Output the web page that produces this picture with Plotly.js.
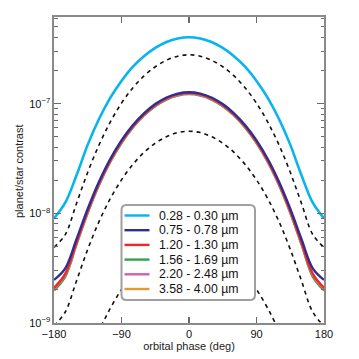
<!DOCTYPE html>
<html>
<head>
<meta charset="utf-8">
<script src="https://cdn.plot.ly/plotly-3.0.1.min.js"></script>
<style>html,body{margin:0;padding:0;background:#fff;}</style>
</head>
<body>
<div id="chart" style="width:359px;height:359px;"></div>
<script>
// orbital phase samples (deg)
const phase = [-180,-165,-150,-135,-120,-105,-90,-75,-60,-45,-30,-15,0,15,30,45,60,75,90,105,120,135,150,165,180];

// planet/star contrast per band
const band028 = [9.0e-9,1.25e-8,2.22e-8,4.23e-8,7.25e-8,1.13e-7,1.61e-7,2.16e-7,2.70e-7,3.22e-7,3.65e-7,3.93e-7,4.03e-7,3.93e-7,3.65e-7,3.22e-7,2.70e-7,2.16e-7,1.61e-7,1.13e-7,7.25e-8,4.23e-8,2.22e-8,1.25e-8,9.0e-9];
const band075 = [2.47e-9,3.15e-9,5.8e-9,1.10e-8,1.94e-8,3.13e-8,4.63e-8,6.36e-8,8.17e-8,9.91e-8,1.137e-7,1.235e-7,1.27e-7,1.235e-7,1.137e-7,9.91e-8,8.17e-8,6.36e-8,4.63e-8,3.13e-8,1.94e-8,1.10e-8,5.8e-9,3.15e-9,2.47e-9];
const band120 = [2.09e-9,2.8e-9,5.4e-9,1.05e-8,1.87e-8,3.03e-8,4.5e-8,6.2e-8,8.0e-8,9.73e-8,1.118e-7,1.215e-7,1.25e-7,1.215e-7,1.118e-7,9.73e-8,8.0e-8,6.2e-8,4.5e-8,3.03e-8,1.87e-8,1.05e-8,5.4e-9,2.8e-9,2.09e-9];
const band156 = [1.98e-9,2.65e-9,5.2e-9,1.01e-8,1.81e-8,2.94e-8,4.38e-8,6.04e-8,7.8e-8,9.48e-8,1.09e-7,1.186e-7,1.22e-7,1.186e-7,1.09e-7,9.48e-8,7.8e-8,6.04e-8,4.38e-8,2.94e-8,1.81e-8,1.01e-8,5.2e-9,2.65e-9,1.98e-9];
const band220 = [2.05e-9,2.75e-9,5.3e-9,1.03e-8,1.84e-8,2.98e-8,4.44e-8,6.12e-8,7.9e-8,9.6e-8,1.104e-7,1.2e-7,1.235e-7,1.2e-7,1.104e-7,9.6e-8,7.9e-8,6.12e-8,4.44e-8,2.98e-8,1.84e-8,1.03e-8,5.3e-9,2.75e-9,2.05e-9];
const band358 = [2.08e-9,2.78e-9,5.35e-9,1.04e-8,1.86e-8,3.0e-8,4.47e-8,6.16e-8,7.95e-8,9.67e-8,1.11e-7,1.21e-7,1.24e-7,1.21e-7,1.11e-7,9.67e-8,7.95e-8,6.16e-8,4.47e-8,3.0e-8,1.86e-8,1.04e-8,5.35e-9,2.78e-9,2.08e-9];

// dashed reference curves
const dashHigh = [4.9e-9,6.4e-9,1.23e-8,2.37e-8,4.2e-8,6.8e-8,1.01e-7,1.39e-7,1.79e-7,2.17e-7,2.49e-7,2.71e-7,2.79e-7,2.71e-7,2.49e-7,2.17e-7,1.79e-7,1.39e-7,1.01e-7,6.8e-8,4.2e-8,2.37e-8,1.23e-8,6.4e-9,4.9e-9];
const dashLow = [9.4e-10,1.26e-9,2.42e-9,4.7e-9,8.4e-9,1.36e-8,2.02e-8,2.78e-8,3.59e-8,4.36e-8,5.0e-8,5.45e-8,5.6e-8,5.45e-8,5.0e-8,4.36e-8,3.59e-8,2.78e-8,2.02e-8,1.36e-8,8.4e-9,4.7e-9,2.42e-9,1.26e-9,9.4e-10];
const dashLowest = [9.4e-11,1.26e-10,2.42e-10,4.7e-10,8.4e-10,1.36e-9,2.02e-9,2.78e-9,3.59e-9,4.36e-9,5.0e-9,5.45e-9,5.6e-9,5.45e-9,5.0e-9,4.36e-9,3.59e-9,2.78e-9,2.02e-9,1.36e-9,8.4e-10,4.7e-10,2.42e-10,1.26e-10,9.4e-11];

const bandLabels = ['0.28 - 0.30 µm','0.75 - 0.78 µm','1.20 - 1.30 µm','1.56 - 1.69 µm','2.20 - 2.48 µm','3.58 - 4.00 µm'];
const bandColors = ['#08b4ef','#2e2e96','#f42626','#34a056','#cf5fb4','#e39a32'];
const bandData = [band028, band075, band120, band156, band220, band358];

const xTicks = [-180,-90,0,90,180];
const yTicks = [1e-9,1e-8,1e-7];
const yTickText = ['10<sup>−9</sup>','10<sup>−8</sup>','10<sup>−7</sup>'];
const yMinor = [2e-9,3e-9,4e-9,5e-9,6e-9,7e-9,8e-9,9e-9,2e-8,3e-8,4e-8,5e-8,6e-8,7e-8,8e-8,9e-8,2e-7,3e-7,4e-7,5e-7,6e-7];

// plot area in pixels, used to place the hand-made legend
const L = 54, T = 17, W = 270, H = 306;
const px = x => (x - L) / W;
const py = y => (T + H - y) / H;
const font = 'Liberation Sans, Arial, sans-serif';

const traces = [];
[dashHigh, dashLow, dashLowest].forEach(d => {
  traces.push({
    type: 'scatter', mode: 'lines', x: phase, y: d,
    line: {color: '#111', width: 1.6, dash: '4px,4px', shape: 'spline'},
    showlegend: false, hoverinfo: 'skip'
  });
});
// drawing order: cyan, then the near-identical bands with blue on top
[0, 3, 4, 5, 2, 1].forEach(i => {
  traces.push({
    type: 'scatter', mode: 'lines', x: phase, y: bandData[i],
    line: {color: bandColors[i], width: i === 0 ? 2.6 : 2.4, shape: 'spline'},
    name: bandLabels[i], showlegend: false
  });
});

// legend box with rounded corners
const bx0 = 121.5, bx1 = 255, by0 = 205, by1 = 300, r = 5;
const boxPath =
  `M ${px(bx0 + r)},${py(by0)} L ${px(bx1 - r)},${py(by0)} Q ${px(bx1)},${py(by0)} ${px(bx1)},${py(by0 + r)} ` +
  `L ${px(bx1)},${py(by1 - r)} Q ${px(bx1)},${py(by1)} ${px(bx1 - r)},${py(by1)} ` +
  `L ${px(bx0 + r)},${py(by1)} Q ${px(bx0)},${py(by1)} ${px(bx0)},${py(by1 - r)} ` +
  `L ${px(bx0)},${py(by0 + r)} Q ${px(bx0)},${py(by0)} ${px(bx0 + r)},${py(by0)} Z`;

const shapes = [{
  type: 'path', path: boxPath, xref: 'paper', yref: 'paper', layer: 'above',
  fillcolor: '#fff', line: {color: '#a0a0a0', width: 2}
}];
const annotations = [];
bandLabels.forEach((lab, i) => {
  const rowY = 215.5 + i * 14.7;
  shapes.push({
    type: 'line', xref: 'paper', yref: 'paper', layer: 'above',
    x0: px(124.5), x1: px(149.5), y0: py(rowY), y1: py(rowY),
    line: {color: bandColors[i], width: 2.4}
  });
  annotations.push({
    xref: 'paper', yref: 'paper', x: px(157), y: py(rowY),
    xanchor: 'left', yanchor: 'middle', showarrow: false,
    text: lab, font: {size: 12.3, color: '#111', family: font}
  });
});
// y-axis title, placed by hand to sit where the original has it
annotations.push({
  xref: 'paper', yref: 'paper', x: px(19), y: py(171),
  xanchor: 'center', yanchor: 'middle', showarrow: false, textangle: -90,
  text: 'planet/star contrast', font: {size: 11, color: '#222', family: font}
});

const axisCommon = {
  showline: true, linecolor: '#8a8a8a', linewidth: 1.6, mirror: 'ticks',
  ticks: 'inside', tickcolor: '#6a6a6a', tickwidth: 1.2,
  showgrid: false, zeroline: false,
  tickfont: {size: 11, color: '#111', family: font}
};

const layout = {
  width: 359, height: 359,
  margin: {l: L, r: 359 - L - W, t: T, b: 359 - T - H},
  paper_bgcolor: '#fff', plot_bgcolor: '#fff',
  showlegend: false,
  xaxis: Object.assign({}, axisCommon, {
    range: [-180, 180], tickmode: 'array', tickvals: xTicks, ticklen: 6,
    title: {text: 'orbital phase (deg)', standoff: 2, font: {size: 11, color: '#222', family: font}}
  }),
  yaxis: Object.assign({}, axisCommon, {
    type: 'log', range: [-9, -6.21], tickmode: 'array', tickvals: yTicks, ticktext: yTickText, ticklen: 7,
    minor: {tickmode: 'array', tickvals: yMinor, ticks: 'inside', ticklen: 3.5, tickcolor: '#6a6a6a', tickwidth: 1}
  }),
  shapes: shapes,
  annotations: annotations
};

Plotly.newPlot('chart', traces, layout, {displayModeBar: false, staticPlot: true});
</script>
</body>
</html>
